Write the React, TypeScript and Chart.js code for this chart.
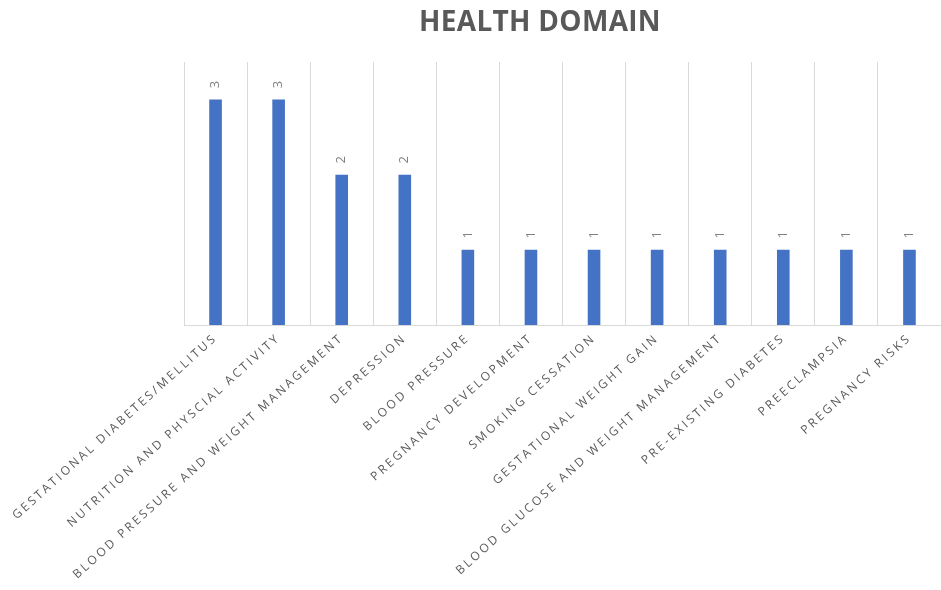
import React, { useEffect, useRef } from "react";
import { Chart, registerables } from "chart.js";

Chart.register(...registerables);

const categories = [
  "GESTATIONAL DIABETES/MELLITUS",
  "NUTRITION AND PHYSCIAL ACTIVITY",
  "BLOOD PRESSURE AND WEIGHT MANAGEMENT",
  "DEPRESSION",
  "BLOOD PRESSURE",
  "PREGNANCY DEVELOPMENT",
  "SMOKING CESSATION",
  "GESTATIONAL WEIGHT GAIN",
  "BLOOD GLUCOSE AND WEIGHT MANAGEMENT",
  "PRE-EXISTING DIABETES",
  "PREECLAMPSIA",
  "PREGNANCY RISKS",
];
const counts = [3, 3, 2, 2, 1, 1, 1, 1, 1, 1, 1, 1];
const titleText = "HEALTH DOMAIN";

const spacingPlugin = {
  id: "spacing",
  beforeUpdate(chart: any) {
    chart.ctx.letterSpacing = "2.6px";
  },
  beforeDraw(chart: any) {
    chart.ctx.letterSpacing = "2.6px";
  },
};

const titlePlugin = {
  id: "customTitle",
  afterDraw(chart: any) {
    const ctx = chart.ctx;
    ctx.save();
    ctx.letterSpacing = "0.3px";
    ctx.font = "bold 28px 'Open Sans'";
    ctx.fillStyle = "#595959";
    ctx.textAlign = "center";
    ctx.textBaseline = "middle";
    ctx.fillText(titleText, 540, 23);
    ctx.restore();
  },
};

const labelPlugin = {
  id: "barLabels",
  afterDatasetsDraw(chart: any) {
    const ctx = chart.ctx;
    const meta = chart.getDatasetMeta(0);
    ctx.save();
    ctx.letterSpacing = "0px";
    ctx.font = "13px 'Open Sans'";
    ctx.fillStyle = "#808080";
    ctx.textAlign = "center";
    ctx.textBaseline = "middle";
    meta.data.forEach((bar: any, i: number) => {
      ctx.save();
      ctx.translate(bar.x, bar.y - 15);
      ctx.rotate(-Math.PI / 2);
      ctx.fillText(String(counts[i]), 0, 0);
      ctx.restore();
    });
    ctx.restore();
  },
};

export default function App() {
  const ref = useRef<HTMLCanvasElement>(null);
  useEffect(() => {
    document.body.style.margin = "0";
    const chart = new Chart(ref.current!, {
      type: "bar",
      data: {
        labels: categories,
        datasets: [
          {
            data: counts,
            backgroundColor: "#4472C4",
            barPercentage: 0.4,
            categoryPercentage: 0.5,
          },
        ],
      },
      options: {
        responsive: false,
        animation: false,
        layout: { padding: { left: 184, top: 62, right: 0, bottom: 0 } },
        plugins: {
          legend: { display: false },
          title: { display: false },
          tooltip: { enabled: false },
        },
        scales: {
          x: {
            grid: {
              color: (c: any) => (c.index >= categories.length ? "transparent" : "#d9d9d9"),
              drawTicks: false,
              offset: true,
            },
            border: { color: "#d9d9d9" },
            ticks: {
              autoSkip: false,
              maxRotation: 42,
              minRotation: 42,
              padding: 6,
              color: "#595959",
              font: { family: "'Open Sans'", size: 12 },
            },
            afterFit(scale: any) {
              scale.height = 265;
            },
          },
          y: {
            display: false,
            min: 0,
            max: 3.5,
          },
        },
      },
      plugins: [spacingPlugin, labelPlugin, titlePlugin],
    });
    return () => chart.destroy();
  }, []);
  return <canvas ref={ref} width={941} height={590} />;
}
